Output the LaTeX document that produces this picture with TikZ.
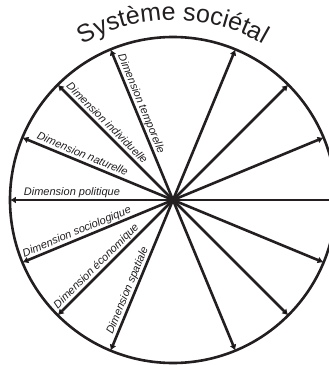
\documentclass[tikz,border=0pt]{standalone}
\usepackage{fontspec}
\setmainfont{Liberation Sans}
\usetikzlibrary{arrows.meta}
\usetikzlibrary{decorations.text}

\begin{document}
\begin{tikzpicture}[
        x=1pt, y=1pt,
        spoke/.style={draw=rim, line width=2.6pt, -{Latex[length=6pt,width=7pt]}},
        lbl/.style={sloped, above, inner sep=2pt, text depth=0.2em, text=rim, font=\fontsize{11}{12}\selectfont\itshape},
    ]
        \definecolor{rim}{RGB}{35,31,32}

        \useasboundingbox (-173,-165) rectangle (156,200);
        \clip (-173,-165) rectangle (156,200);

        % Centre and rim points
        \coordinate (c) at (0,0);
        \coordinate (temporelle) at (112.5:163);
        \coordinate (individuelle) at (135:163);
        \coordinate (naturelle) at (157.5:163);
        \coordinate (politique) at (180:163);
        \coordinate (sociologique) at (202.5:163);
        \coordinate (economique) at (225:163);
        \coordinate (spatiale) at (247.5:163);
        \coordinate (rA) at (67.5:163);
        \coordinate (rB) at (45:163);
        \coordinate (rC) at (22.5:163);
        \coordinate (rD) at (0:163);
        \coordinate (rE) at (-22.5:163);
        \coordinate (rF) at (-45:163);
        \coordinate (rG) at (-67.5:163);

        % Circle
        \draw[rim, line width=2.6pt] (c) circle[radius=163];

        % Title
        \path[decorate, decoration={text along path, text align=center,
            text color=rim,
            text={|\fontsize{25}{25}\selectfont|Système sociétal}}]
            (180:180) arc[start angle=180, end angle=0, radius=180];

        % Spokes
        \draw[spoke] (c) -- (temporelle);
        \draw[spoke] (c) -- (individuelle);
        \draw[spoke] (c) -- (naturelle);
        \draw[spoke] (c) -- (politique);
        \draw[spoke] (c) -- (sociologique);
        \draw[spoke] (c) -- (economique);
        \draw[spoke] (c) -- (spatiale);
        \draw[spoke] (c) -- (rA);
        \draw[spoke] (c) -- (rB);
        \draw[spoke] (c) -- (rC);
        \draw[spoke] (c) -- (rD);
        \draw[spoke] (c) -- (rE);
        \draw[spoke] (c) -- (rF);
        \draw[spoke] (c) -- (rG);

        % Labels
        \path (temporelle) -- (c) node[lbl, pos=0.38] (ltemp) {Dimension temporelle};
        \path (individuelle) -- (c) node[lbl, pos=0.38] (lindiv) {Dimension individuelle};
        \path (naturelle) -- (c) node[lbl, pos=0.38] (lnat) {Dimension naturelle};
        \path (politique) -- (c) node[lbl, pos=0.38] (lpol) {Dimension politique};
        \path (sociologique) -- (c) node[lbl, pos=0.38] (lsocio) {Dimension sociologique};
        \path (economique) -- (c) node[lbl, pos=0.38] (leco) {Dimension économique};
        \path (spatiale) -- (c) node[lbl, pos=0.38] (lspat) {Dimension spatiale};
    \end{tikzpicture}
\end{document}
